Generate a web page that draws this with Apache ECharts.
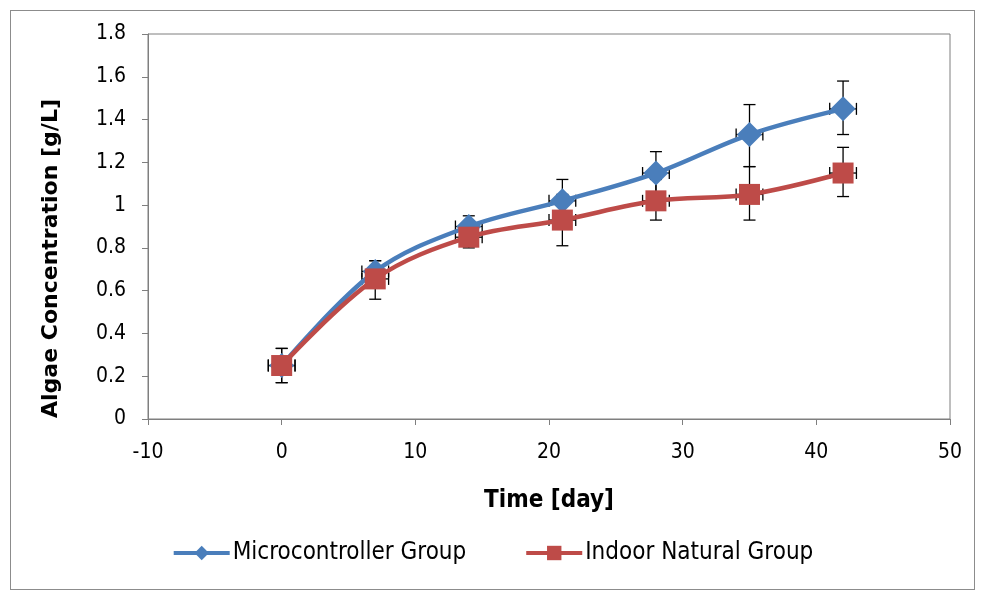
<!DOCTYPE html>
<html>
<head>
<meta charset="utf-8">
<script src="https://cdn.jsdelivr.net/npm/echarts@6/dist/echarts.min.js"></script>
<style>
  html, body { margin: 0; padding: 0; background: #fff; }
  #frame { position: absolute; left: 10px; top: 10px; width: 963px; height: 578px; border: 1px solid #8c8c8c; }
  #main { position: absolute; left: 0; top: 0; width: 985px; height: 596px; }
</style>
</head>
<body>
<div id="frame"></div>
<div id="main"></div>
<script>
// 数据
var days = [0, 7, 14, 21, 28, 35, 42];
var microValues = [0.25, 0.69, 0.90, 1.02, 1.15, 1.33, 1.45];
var microLow    = [0.17, 0.65, 0.88, 0.93, 1.06, 1.18, 1.33];
var microHigh   = [0.33, 0.74, 0.95, 1.12, 1.25, 1.47, 1.58];
var indoorValues = [0.25, 0.655, 0.85, 0.93, 1.02, 1.05, 1.15];
var indoorLow    = [0.17, 0.56, 0.80, 0.81, 0.93, 0.93, 1.04];
var indoorHigh   = [0.33, 0.74, 0.92, 1.05, 1.12, 1.18, 1.27];
var dayErr = 1; // 横向误差 ±1天

var FONT = '"DejaVu Sans Condensed", "Liberation Sans Narrow", "Liberation Sans", sans-serif';

function pairs(xs, ys) {
  var arr = [];
  for (var i = 0; i < xs.length; i++) arr.push([xs[i], ys[i]]);
  return arr;
}
function errData(xs, ys, lo, hi) {
  var arr = [];
  for (var i = 0; i < xs.length; i++) arr.push([xs[i], ys[i], lo[i], hi[i]]);
  return arr;
}

// 误差线
function renderErr(params, api) {
  var x = api.value(0), y = api.value(1), lo = api.value(2), hi = api.value(3);
  var pTop = api.coord([x, hi]);
  var pBot = api.coord([x, lo]);
  var pL = api.coord([x - dayErr, y]);
  var pR = api.coord([x + dayErr, y]);
  var cap = 6;
  var st = { stroke: '#000', lineWidth: 1.3 };
  return {
    type: 'group',
    children: [
      { type: 'line', shape: { x1: pTop[0], y1: pTop[1], x2: pBot[0], y2: pBot[1] }, style: st },
      { type: 'line', shape: { x1: pTop[0] - cap, y1: pTop[1], x2: pTop[0] + cap, y2: pTop[1] }, style: st },
      { type: 'line', shape: { x1: pBot[0] - cap, y1: pBot[1], x2: pBot[0] + cap, y2: pBot[1] }, style: st },
      { type: 'line', shape: { x1: pL[0], y1: pL[1], x2: pR[0], y2: pR[1] }, style: st },
      { type: 'line', shape: { x1: pL[0], y1: pL[1] - cap, x2: pL[0], y2: pL[1] + cap }, style: st },
      { type: 'line', shape: { x1: pR[0], y1: pR[1] - cap, x2: pR[0], y2: pR[1] + cap }, style: st }
    ]
  };
}

var myChart = echarts.init(document.getElementById('main'));

myChart.setOption({
  animation: false,
  textStyle: { fontFamily: FONT },
  grid: {
    left: 148, right: 35, top: 34, bottom: 177,
    show: true, borderColor: '#7f7f7f', borderWidth: 1, backgroundColor: 'transparent'
  },
  legend: {
    bottom: 26,
    left: 'center',
    itemGap: 58,
    itemWidth: 56,
    itemHeight: 18,
    lineStyle: { width: 4 },
    textStyle: { fontFamily: FONT, fontSize: 24, color: '#000', padding: [0, 0, 0, -2] },
    data: ['Microcontroller Group', 'Indoor Natural Group']
  },
  xAxis: {
    type: 'value',
    min: -10, max: 50, interval: 10,
    name: 'Time [day]',
    nameLocation: 'middle',
    nameGap: 70,
    nameTextStyle: { fontFamily: FONT, fontSize: 24, fontWeight: 'bold', color: '#000' },
    axisLine: { onZero: false, lineStyle: { color: '#7f7f7f' } },
    axisTick: { show: true, inside: false, length: 6, lineStyle: { color: '#7f7f7f' } },
    axisLabel: { fontSize: 21, color: '#000', margin: 23 },
    splitLine: { show: false }
  },
  yAxis: {
    type: 'value',
    min: 0, max: 1.8, interval: 0.2,
    name: 'Algae Concentration [g/L]',
    nameLocation: 'middle',
    nameGap: 86,
    nameRotate: 90,
    nameTextStyle: {
      fontFamily: '"DejaVu Sans", sans-serif', fontSize: 22, fontWeight: 'bold', color: '#000',
      padding: [0, 64, 0, 0]
    },
    axisLine: { show: true, onZero: false, lineStyle: { color: '#7f7f7f' } },
    axisTick: { show: true, inside: false, length: 6, lineStyle: { color: '#7f7f7f' } },
    axisLabel: {
      fontSize: 21, color: '#000', margin: 22,
      formatter: function (v) { return String(Math.round(v * 10) / 10); }
    },
    splitLine: { show: false }
  },
  series: [
    {
      type: 'custom',
      renderItem: renderErr,
      data: errData(days, microValues, microLow, microHigh),
      z: 1,
      silent: true
    },
    {
      type: 'custom',
      renderItem: renderErr,
      data: errData(days, indoorValues, indoorLow, indoorHigh),
      z: 1,
      silent: true
    },
    {
      name: 'Microcontroller Group',
      type: 'line',
      smooth: 0.35,
      data: pairs(days, microValues),
      symbol: 'diamond',
      symbolSize: 25,
      color: '#4a7ebb',
      lineStyle: { width: 4.5, color: '#4a7ebb' },
      itemStyle: { color: '#4a7ebb' },
      z: 2
    },
    {
      name: 'Indoor Natural Group',
      type: 'line',
      smooth: 0.35,
      data: pairs(days, indoorValues),
      symbol: 'rect',
      symbolSize: 21,
      color: '#be4b48',
      lineStyle: { width: 4.5, color: '#be4b48' },
      itemStyle: { color: '#be4b48' },
      z: 3
    }
  ]
});
</script>
</body>
</html>
